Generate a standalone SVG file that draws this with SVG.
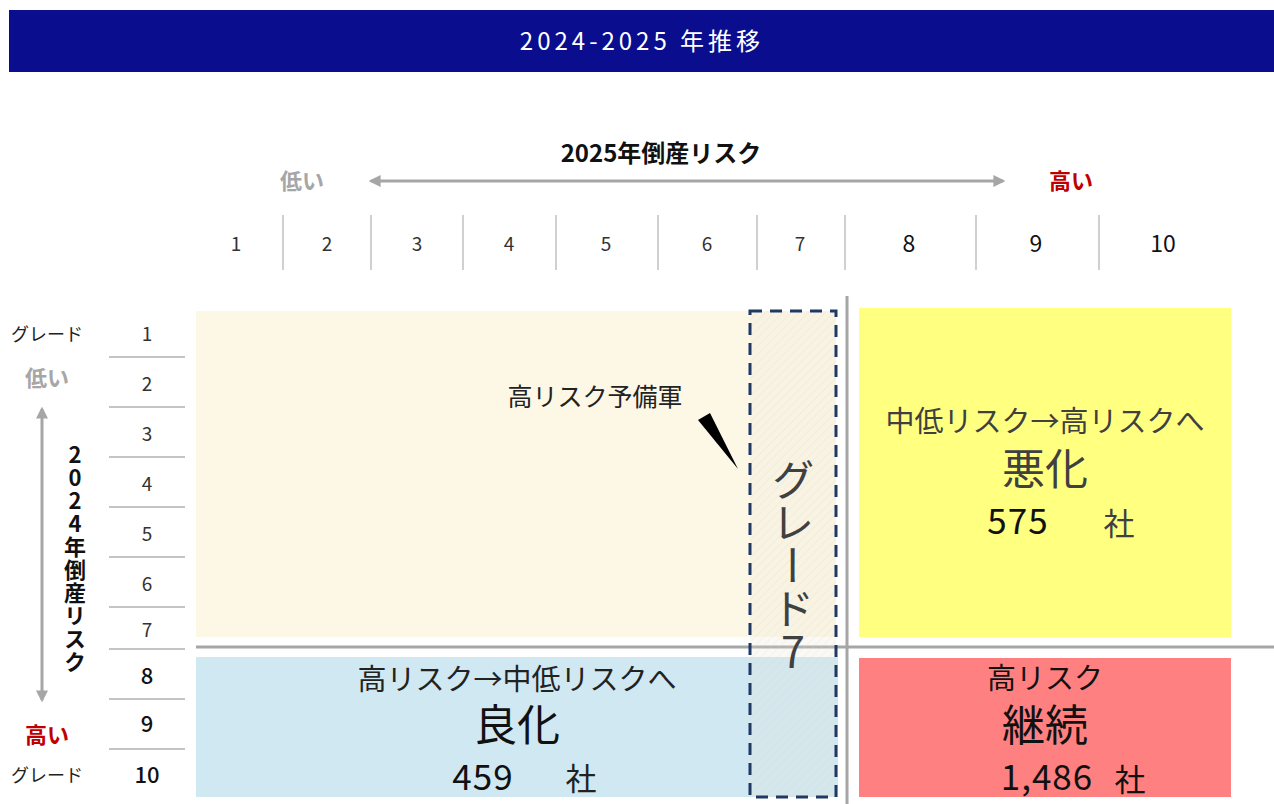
<svg xmlns="http://www.w3.org/2000/svg" width="1274" height="804" viewBox="0 0 1274 804">
<style>
text{font-family:"Noto Sans CJK JP","Noto Sans",sans-serif;}
.sep{stroke:#D0D0D0;stroke-width:2;}
.hl{stroke:#B0B0B0;stroke-width:1.5;}
.axis{stroke:#A6A6A6;stroke-width:3;fill:none;}
.cross{stroke:#A6A6A6;stroke-width:3;}
.cn{font-size:19px;fill:#333;text-anchor:middle;}
.cb{font-size:23px;fill:#111;text-anchor:middle;}
.rn{font-size:19px;fill:#333;text-anchor:middle;}
.rb{font-size:22px;fill:#111;text-anchor:middle;font-weight:500;}
.gray{fill:#A6A6A6;font-weight:bold;font-size:22px;text-anchor:middle;}
.red{fill:#C00000;font-weight:bold;font-size:22px;text-anchor:middle;}
.gl{font-size:18px;fill:#222;text-anchor:middle;}
.sub{font-size:29px;text-anchor:middle;}
.big{font-size:43px;text-anchor:middle;}
.num{font-size:35px;text-anchor:middle;letter-spacing:1px;}
.sha{font-size:31px;text-anchor:middle;}
</style>
<defs>
<marker id="ah" viewBox="0 0 10 10" refX="8" refY="5" markerWidth="4" markerHeight="4" orient="auto-start-reverse">
<path d="M0,0 L10,5 L0,10 z" fill="#A6A6A6"/>
</marker>
<pattern id="hatch" width="6" height="6" patternUnits="userSpaceOnUse" patternTransform="rotate(45)">
<rect width="6" height="6" fill="#E8E0D0" fill-opacity="0.2"/>
<line x1="0" y1="0" x2="0" y2="6" stroke="#D8D0C0" stroke-width="1.2" stroke-opacity="0.35"/>
</pattern>
</defs>

<g id="title">
<rect x="9" y="10" width="1265" height="62" fill="#0A0E8E"/>
<text x="642" y="50" font-size="24" fill="#FFFFFF" text-anchor="middle" letter-spacing="4">2024-2025 年推移</text>
</g>

<g id="top-axis">
<text x="661" y="162" font-size="24" font-weight="bold" fill="#111" text-anchor="middle">2025年倒産リスク</text>
<text class="gray" x="302" y="189">低い</text>
<text class="red" x="1071" y="189">高い</text>
<line class="sep" x1="283" y1="215" x2="283" y2="270"/>
<line class="sep" x1="371" y1="215" x2="371" y2="270"/>
<line class="sep" x1="463" y1="215" x2="463" y2="270"/>
<line class="sep" x1="556" y1="215" x2="556" y2="270"/>
<line class="sep" x1="658" y1="215" x2="658" y2="270"/>
<line class="sep" x1="757" y1="215" x2="757" y2="270"/>
<line class="sep" x1="845" y1="215" x2="845" y2="270"/>
<line class="sep" x1="976" y1="215" x2="976" y2="270"/>
<line class="sep" x1="1099" y1="215" x2="1099" y2="270"/>
<text class="cn" x="236" y="251">1</text>
<text class="cn" x="327" y="251">2</text>
<text class="cn" x="417" y="251">3</text>
<text class="cn" x="509" y="251">4</text>
<text class="cn" x="606" y="251">5</text>
<text class="cn" x="707" y="251">6</text>
<text class="cn" x="800" y="251">7</text>
<text class="cb" x="909" y="252">8</text>
<text class="cb" x="1036" y="252">9</text>
<text class="cb" x="1163" y="252">10</text>
</g>

<g id="left-axis">
<text class="gl" x="47" y="341">グレード</text>
<text class="gray" x="47" y="386">低い</text>
<text class="red" x="47" y="743">高い</text>
<text class="gl" x="47" y="782">グレード</text>
<text x="75" y="444" font-size="22" font-weight="bold" fill="#111" writing-mode="vertical-rl" style="writing-mode:vertical-rl;text-orientation:upright;" letter-spacing="1">2024年倒産リスク</text>
<line class="hl" x1="109" y1="357" x2="185" y2="357"/>
<line class="hl" x1="109" y1="407" x2="185" y2="407"/>
<line class="hl" x1="109" y1="457" x2="185" y2="457"/>
<line class="hl" x1="109" y1="507" x2="185" y2="507"/>
<line class="hl" x1="109" y1="557" x2="185" y2="557"/>
<line class="hl" x1="109" y1="607" x2="185" y2="607"/>
<line class="hl" x1="109" y1="649" x2="185" y2="649"/>
<line class="hl" x1="109" y1="699" x2="185" y2="699"/>
<line class="hl" x1="109" y1="749" x2="185" y2="749"/>
<text class="rn" x="147" y="341">1</text>
<text class="rn" x="147" y="391">2</text>
<text class="rn" x="147" y="441">3</text>
<text class="rn" x="147" y="491">4</text>
<text class="rn" x="147" y="541">5</text>
<text class="rn" x="147" y="591">6</text>
<text class="rn" x="147" y="637">7</text>
<text class="rb" x="147" y="684">8</text>
<text class="rb" x="147" y="732">9</text>
<text class="rb" x="147" y="783">10</text>
</g>

<g id="quadrant-reserve">
<rect x="196" y="311" width="640" height="326" fill="#FDF7E6"/>
<text x="595" y="406" font-size="25" fill="#222" text-anchor="middle">高リスク予備軍</text>
<polygon points="698,420 710,413 738,469" fill="#000"/>
</g>

<g id="quadrant-improve">
<rect x="196" y="657" width="642" height="140" fill="#D0E8F2"/>
<text class="sub" x="517" y="690" fill="#222">高リスク→中低リスクへ</text>
<text class="big" x="517" y="741" fill="#111">良化</text>
<text class="num" x="483" y="790" fill="#111">459</text>
<text class="sha" x="581" y="790" fill="#222">社</text>
</g>

<g id="quadrant-worsen">
<rect x="859" y="308" width="372" height="329" fill="#FFFF80"/>
<text class="sub" x="1045" y="432" fill="#404040">中低リスク→高リスクへ</text>
<text class="big" x="1045" y="485" fill="#404040">悪化</text>
<text class="num" x="1018" y="534" fill="#111">575</text>
<text class="sha" x="1119" y="535" fill="#404040">社</text>
</g>

<g id="quadrant-continue">
<rect x="859" y="658" width="372" height="139" fill="#FF8080"/>
<text class="sub" x="1045" y="689" fill="#111">高リスク</text>
<text class="big" x="1045" y="741" fill="#111">継続</text>
<text class="num" x="1047" y="790" fill="#111">1,486</text>
<text class="sha" x="1130" y="791" fill="#111">社</text>
</g>

<g id="connectors">
<line class="axis" x1="371" y1="181" x2="1003" y2="181" marker-start="url(#ah)" marker-end="url(#ah)"/>
<line class="axis" x1="42" y1="409" x2="42" y2="700" marker-start="url(#ah)" marker-end="url(#ah)"/>
<line class="cross" x1="847" y1="296" x2="847" y2="804"/>
<line class="cross" x1="196" y1="647" x2="1274" y2="647"/>
</g>

<g id="grade7">
<rect x="750" y="311" width="86" height="486" fill="url(#hatch)" stroke="#1F3864" stroke-width="3" stroke-dasharray="12,8"/>
<text x="793" y="458" font-size="43" fill="#404040" writing-mode="vertical-rl" style="writing-mode:vertical-rl;text-orientation:upright;">グレード7</text>
</g>
</svg>
